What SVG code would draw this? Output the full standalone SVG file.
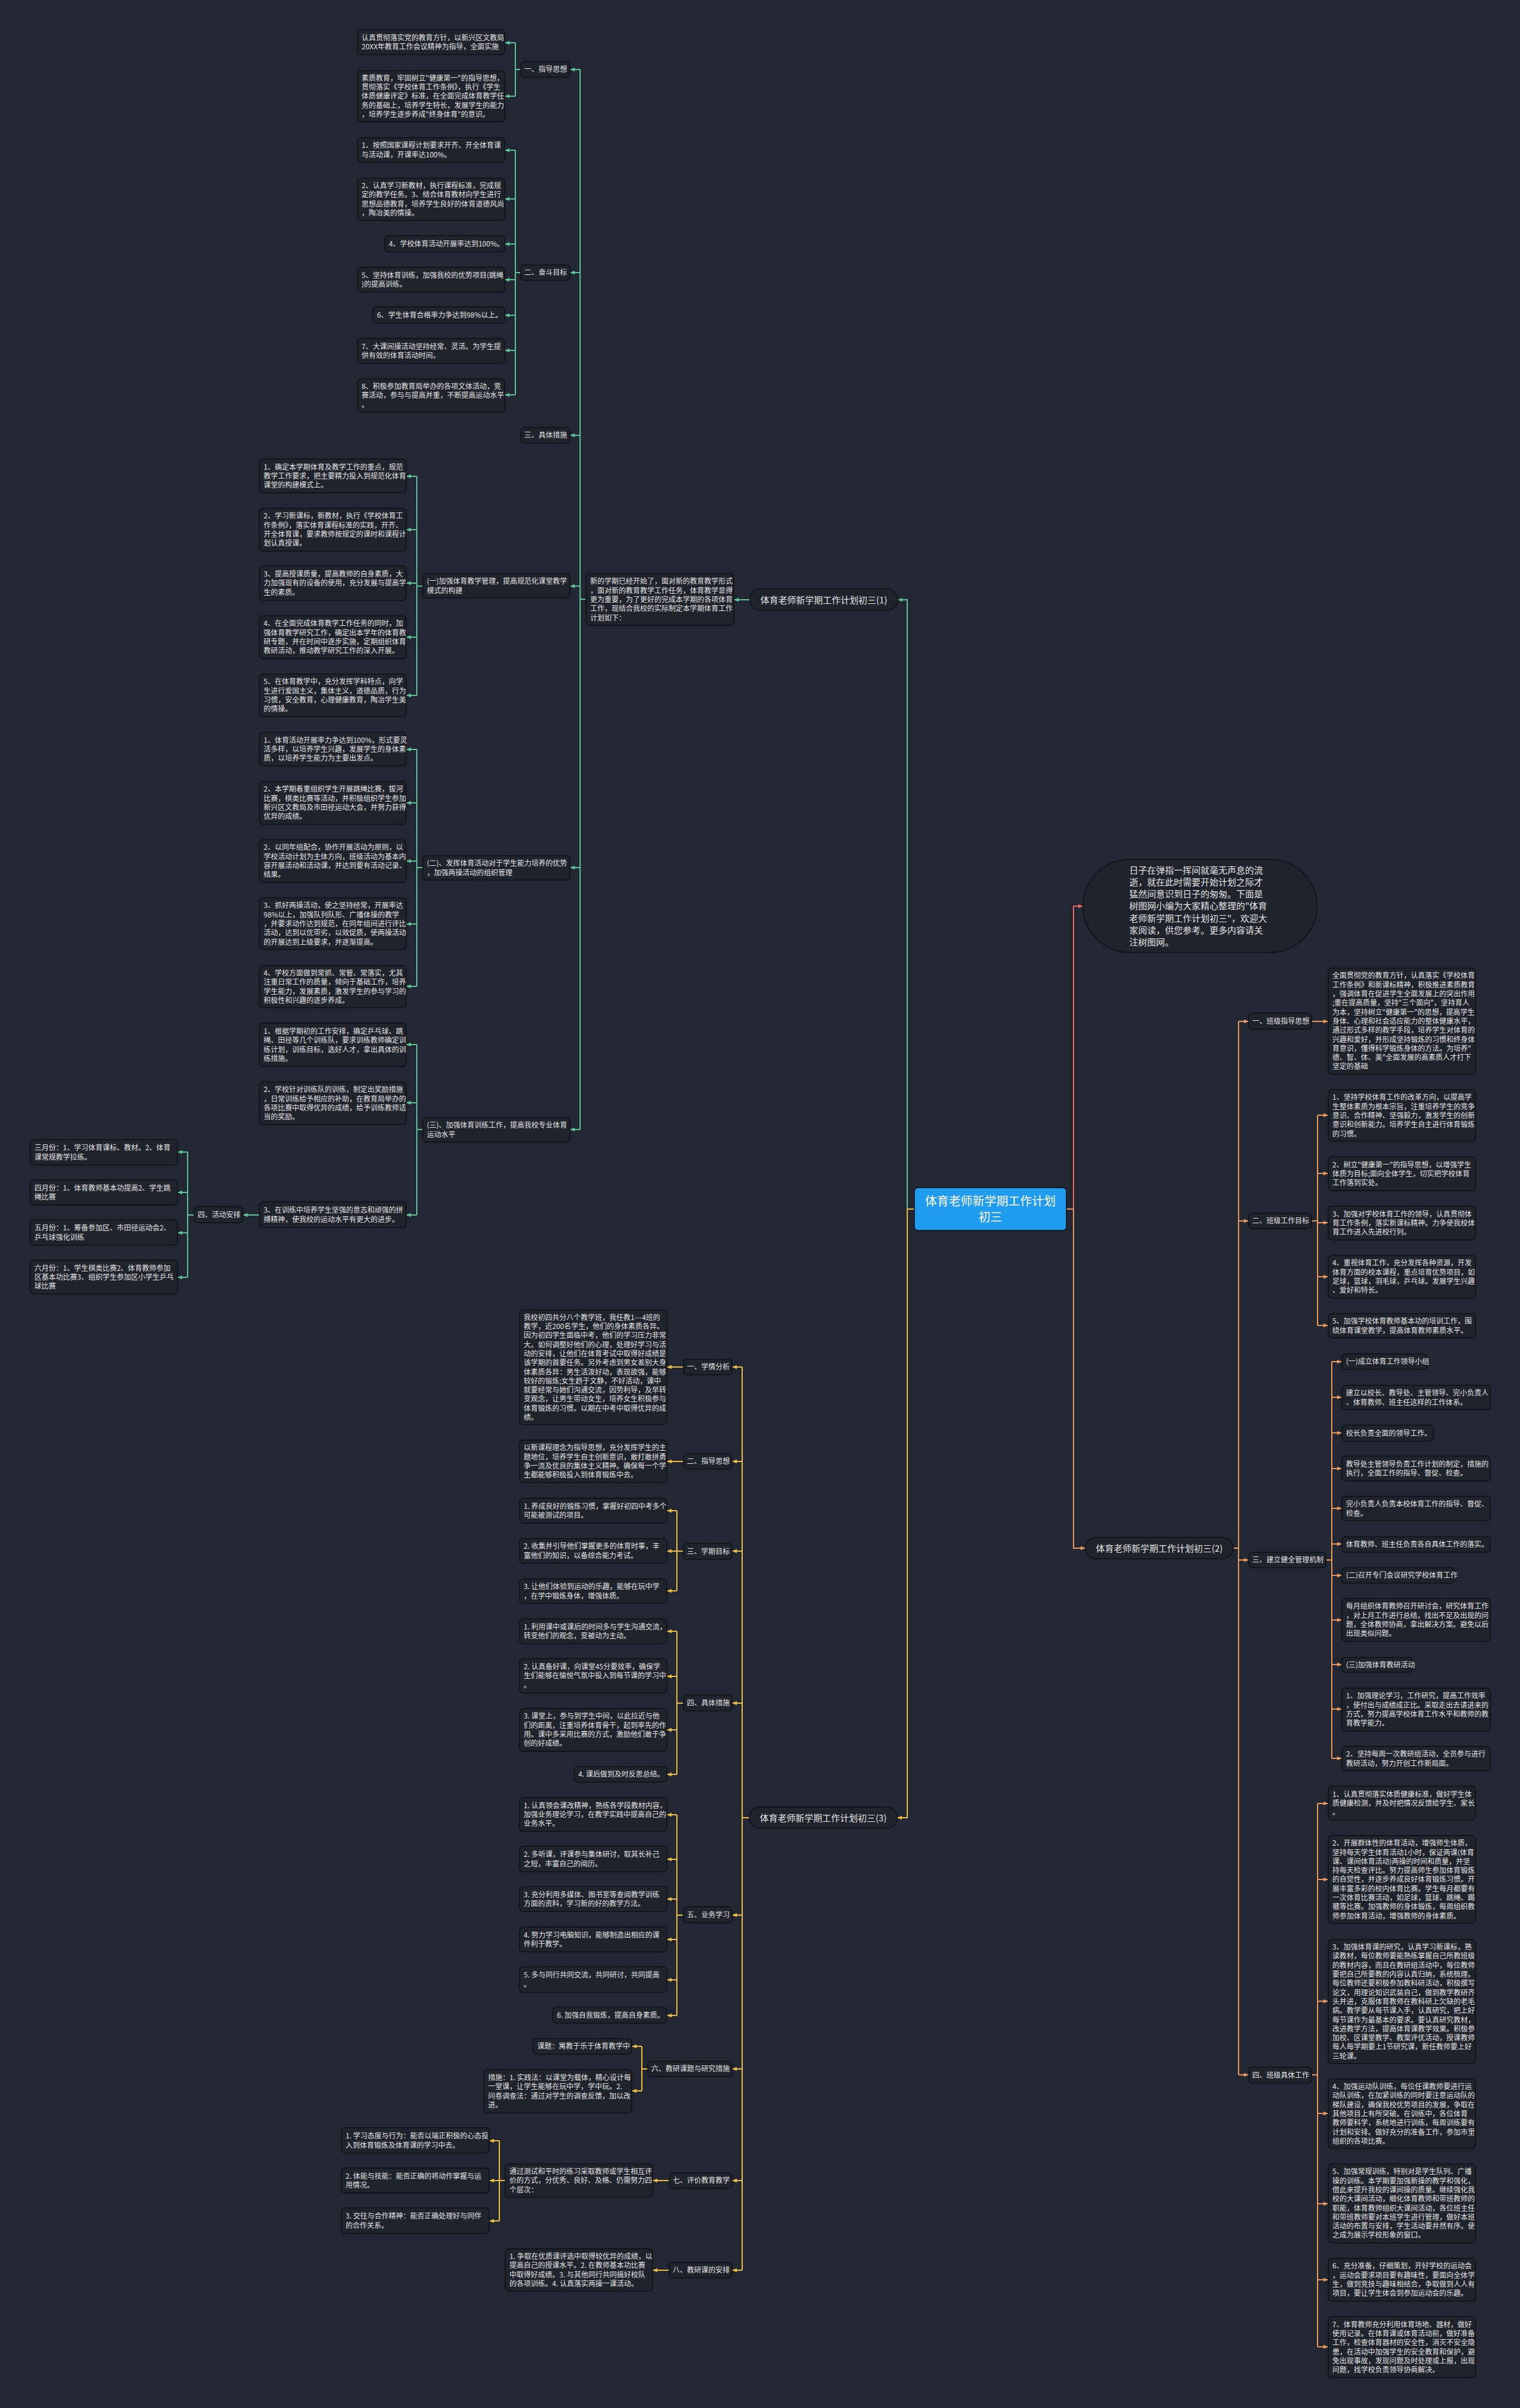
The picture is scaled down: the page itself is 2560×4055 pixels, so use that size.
<svg xmlns="http://www.w3.org/2000/svg" width="2560" height="4055" viewBox="0 0 2560 4055">
<style>
.bg{fill:#232733}
.n rect{fill:#1f232b;stroke:#0e1116;stroke-width:1.5}
.t{font-family:"Noto Sans CJK SC","Noto Sans",sans-serif;font-size:12px;fill:#e6e6e6}
.lb{font-family:"Noto Sans CJK SC","Noto Sans",sans-serif;font-size:15px;fill:#e6e6e6;text-anchor:middle}
.bt{font-family:"Noto Sans CJK SC","Noto Sans",sans-serif;font-size:15px;fill:#e6e6e6}
.rt{font-family:"Noto Sans CJK SC","Noto Sans",sans-serif;font-size:20px;fill:#ffffff;text-anchor:middle}
.cg path{fill:none;stroke:#5cc595;stroke-width:2}
.cy path{fill:none;stroke:#efc03c;stroke-width:2}
.co path{fill:none;stroke:#ec9a5c;stroke-width:2}
.cr path{fill:none;stroke:#e8645f;stroke-width:2}
.cg path.a{marker-end:url(#ag)}
.cy path.a{marker-end:url(#ay)}
.co path.a{marker-end:url(#ao)}
.cr path.a{marker-end:url(#ar)}
</style>
<defs>
<marker id="ag" viewBox="0 0 10 10" refX="10" refY="5" markerWidth="8" markerHeight="8" markerUnits="userSpaceOnUse" orient="auto"><path d="M0,1 L10,5 L0,9 z" fill="#5cc595"/></marker>
<marker id="ay" viewBox="0 0 10 10" refX="10" refY="5" markerWidth="8" markerHeight="8" markerUnits="userSpaceOnUse" orient="auto"><path d="M0,1 L10,5 L0,9 z" fill="#efc03c"/></marker>
<marker id="ao" viewBox="0 0 10 10" refX="10" refY="5" markerWidth="8" markerHeight="8" markerUnits="userSpaceOnUse" orient="auto"><path d="M0,1 L10,5 L0,9 z" fill="#ec9a5c"/></marker>
<marker id="ar" viewBox="0 0 10 10" refX="10" refY="5" markerWidth="8" markerHeight="8" markerUnits="userSpaceOnUse" orient="auto"><path d="M0,1 L10,5 L0,9 z" fill="#e8645f"/></marker>
</defs>
<rect class="bg" x="0" y="0" width="2560" height="4055"/>

<g id="connectors">
<g class="cg">
<path d="M1540 2036 H1528 V1010 H1512" class="a"/>
<path d="M1263 1010 H1236" class="a"/>
<path d="M977 1009 H987"/>
<path d="M977 117 V1902"/>
<path d="M977 117 H960" class="a"/><path d="M977 459 H960" class="a"/><path d="M977 733 H960" class="a"/><path d="M977 987 H960" class="a"/><path d="M977 1461 H960" class="a"/><path d="M977 1902 H960" class="a"/>
<path d="M877 117 H868 M868 72 V162"/>
<path d="M868 72 H850" class="a"/><path d="M868 162 H850" class="a"/>
<path d="M877 459 H868 M868 253 V665"/>
<path d="M868 253 H850" class="a"/><path d="M868 335 H850" class="a"/><path d="M868 411 H850" class="a"/><path d="M868 471 H850" class="a"/><path d="M868 531 H850" class="a"/><path d="M868 590 H850" class="a"/><path d="M868 665 H850" class="a"/>
<path d="M712 987 H702 M702 802 V1171"/>
<path d="M702 802 H684" class="a"/><path d="M702 892 H684" class="a"/><path d="M702 982 H684" class="a"/><path d="M702 1073 H684" class="a"/><path d="M702 1171 H684" class="a"/>
<path d="M712 1461 H702 M702 1262 V1661"/>
<path d="M702 1262 H684" class="a"/><path d="M702 1352 H684" class="a"/><path d="M702 1450 H684" class="a"/><path d="M702 1556 H684" class="a"/><path d="M702 1661 H684" class="a"/>
<path d="M712 1902 H702 M702 1759 V2046"/>
<path d="M702 1759 H684" class="a"/><path d="M702 1857 H684" class="a"/><path d="M702 2046 H684" class="a"/>
<path d="M437 2046 H409" class="a"/>
<path d="M327 2046 H316 M316 1940 V2151"/>
<path d="M316 1940 H299" class="a"/><path d="M316 2008 H299" class="a"/><path d="M316 2076 H299" class="a"/><path d="M316 2151 H299" class="a"/>
</g>
<g class="cy">
<path d="M1540 2036 H1528 V3061 H1511" class="a"/>
<path d="M1262 3061 H1250 M1250 2302 V3823"/>
<path d="M1250 2302 H1233" class="a"/><path d="M1250 2461 H1233" class="a"/><path d="M1250 2612 H1233" class="a"/><path d="M1250 2868 H1233" class="a"/><path d="M1250 3225 H1233" class="a"/><path d="M1250 3484 H1233" class="a"/><path d="M1250 3672 H1233" class="a"/><path d="M1250 3823 H1233" class="a"/>
<path d="M1151 2302 H1123" class="a"/>
<path d="M1151 2461 H1123" class="a"/>
<path d="M1151 2612 H1140 M1140 2544 V2679"/>
<path d="M1140 2544 H1123" class="a"/><path d="M1140 2612 H1123" class="a"/><path d="M1140 2679 H1123" class="a"/>
<path d="M1151 2868 H1140 M1140 2747 V2988"/>
<path d="M1140 2747 H1123" class="a"/><path d="M1140 2823 H1123" class="a"/><path d="M1140 2913 H1123" class="a"/><path d="M1140 2988 H1123" class="a"/>
<path d="M1151 3225 H1140 M1140 3056 V3394"/>
<path d="M1140 3056 H1123" class="a"/><path d="M1140 3131 H1123" class="a"/><path d="M1140 3198 H1123" class="a"/><path d="M1140 3266 H1123" class="a"/><path d="M1140 3334 H1123" class="a"/><path d="M1140 3394 H1123" class="a"/>
<path d="M1091 3484 H1081 M1081 3446 V3521"/>
<path d="M1081 3446 H1064" class="a"/><path d="M1081 3521 H1064" class="a"/>
<path d="M1127 3672 H1099" class="a"/>
<path d="M851 3672 H841 M841 3605 V3740"/>
<path d="M841 3605 H824" class="a"/><path d="M841 3672 H824" class="a"/><path d="M841 3740 H824" class="a"/>
<path d="M1127 3823 H1099" class="a"/>
</g>
<g class="cr">
<path d="M1796 2036 H1808 V1526 H1824" class="a"/>
</g>
<g class="co">
<path d="M1796 2036 H1808 V2607 H1828" class="a"/>
<path d="M2077 2607 H2086 M2086 1720 V3494"/>
<path d="M2086 1720 H2103" class="a"/><path d="M2086 2056 H2103" class="a"/><path d="M2086 2627 H2103" class="a"/><path d="M2086 3494 H2103" class="a"/>
<path d="M2209 1720 H2237" class="a"/>
<path d="M2209 2056 H2219 M2219 1878 V2232"/>
<path d="M2219 1878 H2237" class="a"/><path d="M2219 1976 H2237" class="a"/><path d="M2219 2059 H2237" class="a"/><path d="M2219 2150 H2237" class="a"/><path d="M2219 2232 H2237" class="a"/>
<path d="M2233 2627 H2243 M2243 2293 V2961"/>
<path d="M2243 2293 H2260" class="a"/><path d="M2243 2353 H2260" class="a"/><path d="M2243 2413 H2260" class="a"/><path d="M2243 2473 H2260" class="a"/><path d="M2243 2540 H2260" class="a"/><path d="M2243 2600 H2260" class="a"/><path d="M2243 2653 H2260" class="a"/><path d="M2243 2728 H2260" class="a"/><path d="M2243 2803 H2260" class="a"/><path d="M2243 2878 H2260" class="a"/><path d="M2243 2961 H2260" class="a"/>
<path d="M2209 3494 H2219 M2219 3037 V3952"/>
<path d="M2219 3037 H2237" class="a"/><path d="M2219 3165 H2237" class="a"/><path d="M2219 3370 H2237" class="a"/><path d="M2219 3559 H2237" class="a"/><path d="M2219 3711 H2237" class="a"/><path d="M2219 3839 H2237" class="a"/><path d="M2219 3952 H2237" class="a"/>
</g>
</g>

<!-- root -->
<g id="root"><rect x="1540" y="2000" width="256" height="72" rx="6" fill="#1f9bef" stroke="#0e1116" stroke-width="1.5"/>
<text class="rt" x="1668" y="2030">体育老师新学期工作计划</text><text class="rt" x="1668" y="2057">初三</text></g>

<g id="bubble" class="n"><rect x="1824" y="1447" width="394" height="157" rx="78.5"/>
<text class="bt" x="1902" y="1470.5"><tspan x="1902">日子在弹指一挥间就毫无声息的流</tspan><tspan x="1902" dy="20.3">逝，就在此时需要开始计划之际才</tspan><tspan x="1902" dy="20.3">猛然间意识到日子的匆匆。下面是</tspan><tspan x="1902" dy="20.3">树图网小编为大家精心整理的"体育</tspan><tspan x="1902" dy="20.3">老师新学期工作计划初三"，欢迎大</tspan><tspan x="1902" dy="20.3">家阅读，供您参考。更多内容请关</tspan><tspan x="1902" dy="20.3">注树图网。</tspan></text></g>

<!-- branch 1 -->
<g id="label1" class="n"><rect x="1263" y="992" width="249" height="36" rx="18"/><text class="lb" x="1387.5" y="1015.5">体育老师新学期工作计划初三(1)</text></g>
<g id="intro1" class="n"><rect x="987" y="966" width="249" height="87" rx="6"/>
<text class="t" x="994" y="983.3"><tspan x="994">新的学期已经开始了，面对新的教育教学形式</tspan><tspan x="994" dy="15.3">，面对新的教育教学工作任务，体育教学显得</tspan><tspan x="994" dy="15.3">更为重要，为了更好的完成本学期的各项体育</tspan><tspan x="994" dy="15.3">工作，现结合我校的实际制定本学期体育工作</tspan><tspan x="994" dy="15.3">计划如下：</tspan></text></g>

<g id="s1-1" class="n"><rect x="877" y="104" width="83" height="26" rx="6"/><text class="t" x="883" y="121.4">一、指导思想</text></g>
<g id="s1-2" class="n"><rect x="877" y="446" width="83" height="26" rx="6"/><text class="t" x="883" y="463.4">二、奋斗目标</text></g>
<g id="s1-3" class="n"><rect x="877" y="720" width="83" height="26" rx="6"/><text class="t" x="883" y="737.4">三、具体措施</text></g>

<g id="a1" class="n"><rect x="602" y="50" width="248" height="42" rx="6"/><text class="t" x="609" y="67.75"><tspan x="609">认真贯彻落实党的教育方针，以新兴区文教局</tspan><tspan x="609" dy="15.3">20XX年教育工作会议精神为指导，全面实施</tspan></text></g>
<g id="a2" class="n"><rect x="602" y="119" width="248" height="86" rx="6"/><text class="t" x="609" y="135.8"><tspan x="609">素质教育，牢固树立"健康第一"的指导思想，</tspan><tspan x="609" dy="15.3">贯彻落实《学校体育工作条例》，执行《学生</tspan><tspan x="609" dy="15.3">体质健康评定》标准，在全面完成体育教学任</tspan><tspan x="609" dy="15.3">务的基础上，培养学生特长，发展学生的能力</tspan><tspan x="609" dy="15.3">，培养学生逐步养成"终身体育"的意识。</tspan></text></g>
<g id="b1" class="n"><rect x="602" y="232" width="248" height="41" rx="6"/><text class="t" x="609" y="249.25"><tspan x="609">1、按照国家课程计划要求开齐、开全体育课</tspan><tspan x="609" dy="15.3">与活动课，开课率达100%。</tspan></text></g>
<g id="b2" class="n"><rect x="602" y="300" width="248" height="71" rx="6"/><text class="t" x="609" y="316.95"><tspan x="609">2、认真学习新教材，执行课程标准，完成规</tspan><tspan x="609" dy="15.3">定的教学任务。3、结合体育教材向学生进行</tspan><tspan x="609" dy="15.3">思想品德教育，培养学生良好的体育道德风尚</tspan><tspan x="609" dy="15.3">，陶冶美的情操。</tspan></text></g>
<g id="b3" class="n"><rect x="648" y="397" width="202" height="27" rx="6"/><text class="t" x="655" y="414.9">4、学校体育活动开展率达到100%。</text></g>
<g id="b4" class="n"><rect x="602" y="450" width="248" height="42" rx="6"/><text class="t" x="609" y="467.75"><tspan x="609">5、坚持体育训练，加强我校的优势项目(跳绳</tspan><tspan x="609" dy="15.3">)的提高训练。</tspan></text></g>
<g id="b5" class="n"><rect x="628" y="517" width="222" height="27" rx="6"/><text class="t" x="635" y="534.9">6、学生体育合格率力争达到98%以上。</text></g>
<g id="b6" class="n"><rect x="602" y="570" width="248" height="42" rx="6"/><text class="t" x="609" y="587.75"><tspan x="609">7、大课间操活动坚持经常、灵活。为学生提</tspan><tspan x="609" dy="15.3">供有效的体育活动时间。</tspan></text></g>
<g id="b7" class="n"><rect x="602" y="638" width="248" height="56" rx="6"/><text class="t" x="609" y="655.1"><tspan x="609">8、积极参加教育局举办的各项文体活动，竞</tspan><tspan x="609" dy="15.3">赛活动，参与与提高并重，不断提高运动水平</tspan><tspan x="609" dy="15.3">。</tspan></text></g>

<g id="p1" class="n"><rect x="712" y="966" width="248" height="41" rx="6"/><text class="t" x="719" y="983.25"><tspan x="719">(一)加强体育教学管理，提高规范化课堂教学</tspan><tspan x="719" dy="15.3">模式的构建</tspan></text></g>
<g id="c1" class="n"><rect x="437" y="773" width="247" height="57" rx="6"/><text class="t" x="444" y="790.6"><tspan x="444">1、确定本学期体育及教学工作的重点，规范</tspan><tspan x="444" dy="15.3">教学工作要求，把主要精力投入到规范化体育</tspan><tspan x="444" dy="15.3">课堂的构建模式上。</tspan></text></g>
<g id="c2" class="n"><rect x="437" y="856" width="247" height="72" rx="6"/><text class="t" x="444" y="873.45"><tspan x="444">2、学习新课标，新教材，执行《学校体育工</tspan><tspan x="444" dy="15.3">作条例》，落实体育课程标准的实践，开齐、</tspan><tspan x="444" dy="15.3">开全体育课，要求教师按规定的课时和课程计</tspan><tspan x="444" dy="15.3">划认真授课。</tspan></text></g>
<g id="c3" class="n"><rect x="437" y="953" width="247" height="58" rx="6"/><text class="t" x="444" y="971.1"><tspan x="444">3、提高授课质量，提高教师的自身素质，大</tspan><tspan x="444" dy="15.3">力加强现有的设备的使用，充分发展与提高学</tspan><tspan x="444" dy="15.3">生的素质。</tspan></text></g>
<g id="c4" class="n"><rect x="437" y="1037" width="247" height="72" rx="6"/><text class="t" x="444" y="1054.45"><tspan x="444">4、在全面完成体育教学工作任务的同时，加</tspan><tspan x="444" dy="15.3">强体育教学研究工作，确定出本学年的体育教</tspan><tspan x="444" dy="15.3">研专题，并在时间中逐步实施，定期组织体育</tspan><tspan x="444" dy="15.3">教研活动，推动教学研究工作的深入开展。</tspan></text></g>
<g id="c5" class="n"><rect x="437" y="1135" width="247" height="72" rx="6"/><text class="t" x="444" y="1152.45"><tspan x="444">5、在体育教学中，充分发挥学科特点，向学</tspan><tspan x="444" dy="15.3">生进行爱国主义，集体主义，道德品质，行为</tspan><tspan x="444" dy="15.3">习惯，安全教育，心理健康教育，陶冶学生美</tspan><tspan x="444" dy="15.3">的情操。</tspan></text></g>

<g id="p2" class="n"><rect x="712" y="1441" width="248" height="41" rx="6"/><text class="t" x="719" y="1458.25"><tspan x="719">(二)、发挥体育活动对于学生能力培养的优势</tspan><tspan x="719" dy="15.3">，加强两操活动的组织管理</tspan></text></g>
<g id="d1" class="n"><rect x="437" y="1233" width="247" height="57" rx="6"/><text class="t" x="444" y="1250.6"><tspan x="444">1、体育活动开展率力争达到100%，形式要灵</tspan><tspan x="444" dy="15.3">活多样，以培养学生兴趣，发展学生的身体素</tspan><tspan x="444" dy="15.3">质，以培养学生能力为主要出发点。</tspan></text></g>
<g id="d2" class="n"><rect x="437" y="1316" width="247" height="72" rx="6"/><text class="t" x="444" y="1333.45"><tspan x="444">2、本学期着重组织学生开展跳绳比赛，拔河</tspan><tspan x="444" dy="15.3">比赛，棋类比赛等活动，并积极组织学生参加</tspan><tspan x="444" dy="15.3">新兴区文教局及市田径运动大会，并努力获得</tspan><tspan x="444" dy="15.3">优异的成绩。</tspan></text></g>
<g id="d3" class="n"><rect x="437" y="1414" width="247" height="72" rx="6"/><text class="t" x="444" y="1431.45"><tspan x="444">2、以同年组配合，协作开展活动为原则，以</tspan><tspan x="444" dy="15.3">学校活动计划为主体方向，班级活动为基本内</tspan><tspan x="444" dy="15.3">容开展活动和活动课，并达到要有活动记录、</tspan><tspan x="444" dy="15.3">结果。</tspan></text></g>
<g id="d4" class="n"><rect x="437" y="1512" width="247" height="87" rx="6"/><text class="t" x="444" y="1529.3"><tspan x="444">3、抓好两操活动，使之坚持经常，开展率达</tspan><tspan x="444" dy="15.3">98%以上，加强队列队形、广播体操的教学</tspan><tspan x="444" dy="15.3">，并要求动作达到规范，在同年组间进行评比</tspan><tspan x="444" dy="15.3">活动，达到以优带劣，以效促质，使两操活动</tspan><tspan x="444" dy="15.3">的开展达到上级要求，并逐渐提高。</tspan></text></g>
<g id="d5" class="n"><rect x="437" y="1626" width="247" height="71" rx="6"/><text class="t" x="444" y="1642.95"><tspan x="444">4、学校方面做到常抓、常管、常落实，尤其</tspan><tspan x="444" dy="15.3">注重日常工作的质量，倾向于基础工作，培养</tspan><tspan x="444" dy="15.3">学生能力，发展素质，激发学生的参与学习的</tspan><tspan x="444" dy="15.3">积极性和兴趣的逐步养成。</tspan></text></g>

<g id="p3" class="n"><rect x="712" y="1882" width="248" height="41" rx="6"/><text class="t" x="719" y="1899.25"><tspan x="719">(三)、加强体育训练工作，提高我校专业体育</tspan><tspan x="719" dy="15.3">运动水平</tspan></text></g>
<g id="e1" class="n"><rect x="437" y="1723" width="247" height="73" rx="6"/><text class="t" x="444" y="1740.95"><tspan x="444">1、根据学期初的工作安排，确定乒乓球、跳</tspan><tspan x="444" dy="15.3">绳、田径等几个训练队，要求训练教师确定训</tspan><tspan x="444" dy="15.3">练计划，训练目标，选好人才，拿出具体的训</tspan><tspan x="444" dy="15.3">练措施。</tspan></text></g>
<g id="e2" class="n"><rect x="437" y="1822" width="247" height="72" rx="6"/><text class="t" x="444" y="1839.45"><tspan x="444">2、学校针对训练队的训练，制定出奖励措施</tspan><tspan x="444" dy="15.3">，日常训练给予相应的补助，在教育局举办的</tspan><tspan x="444" dy="15.3">各项比赛中取得优异的成绩，给予训练教师适</tspan><tspan x="444" dy="15.3">当的奖励。</tspan></text></g>
<g id="e3" class="n"><rect x="437" y="2024" width="247" height="43" rx="6"/><text class="t" x="444" y="2042.25"><tspan x="444">3、在训练中培养学生坚强的意志和顽强的拼</tspan><tspan x="444" dy="15.3">搏精神，使我校的运动水平有更大的进步。</tspan></text></g>
<g id="s1-4" class="n"><rect x="327" y="2032" width="82" height="27" rx="6"/><text class="t" x="333" y="2049.9">四、活动安排</text></g>
<g id="m1" class="n"><rect x="51" y="1919" width="248" height="43" rx="6"/><text class="t" x="58" y="1937.25"><tspan x="58">三月份：1、学习体育课标、教材。2、体育</tspan><tspan x="58" dy="15.3">课常规教学拉练。</tspan></text></g>
<g id="m2" class="n"><rect x="51" y="1987" width="248" height="42" rx="6"/><text class="t" x="58" y="2004.75"><tspan x="58">四月份：1、体育教师基本功提高2、学生跳</tspan><tspan x="58" dy="15.3">绳比赛</tspan></text></g>
<g id="m3" class="n"><rect x="51" y="2054" width="248" height="43" rx="6"/><text class="t" x="58" y="2072.25"><tspan x="58">五月份：1、筹备参加区、市田径运动会2、</tspan><tspan x="58" dy="15.3">乒乓球强化训练</tspan></text></g>
<g id="m4" class="n"><rect x="51" y="2122" width="248" height="57" rx="6"/><text class="t" x="58" y="2139.6"><tspan x="58">六月份：1、学生棋类比赛2、体育教师参加</tspan><tspan x="58" dy="15.3">区基本功比赛3、组织学生参加区小学生乒乓</tspan><tspan x="58" dy="15.3">球比赛</tspan></text></g>

<!-- branch 2 -->
<g id="label2" class="n"><rect x="1828" y="2589" width="249" height="36" rx="18"/><text class="lb" x="1952.5" y="2612.5">体育老师新学期工作计划初三(2)</text></g>
<g id="s2-1" class="n"><rect x="2103" y="1706" width="106" height="27" rx="6"/><text class="t" x="2109" y="1723.9">一、班级指导思想</text></g>
<g id="s2-2" class="n"><rect x="2103" y="2043" width="106" height="26" rx="6"/><text class="t" x="2109" y="2060.4">二、班级工作目标</text></g>
<g id="s2-3" class="n"><rect x="2103" y="2614" width="130" height="26" rx="6"/><text class="t" x="2109" y="2631.4">三、建立健全管理机制</text></g>
<g id="s2-4" class="n"><rect x="2103" y="3481" width="106" height="27" rx="6"/><text class="t" x="2109" y="3498.9">四、班级具体工作</text></g>

<g id="r1" class="n"><rect x="2237" y="1630" width="248" height="179" rx="6"/><text class="t" x="2244" y="1647.4"><tspan x="2244">全面贯彻党的教育方针，认真落实《学校体育</tspan><tspan x="2244" dy="15.3">工作条例》和新课标精神，积极推进素质教育</tspan><tspan x="2244" dy="15.3">，强调体育在促进学生全面发展上的突出作用</tspan><tspan x="2244" dy="15.3">;重在提高质量，坚持"三个面向"，坚持育人</tspan><tspan x="2244" dy="15.3">为本，坚持树立"健康第一"的思想，提高学生</tspan><tspan x="2244" dy="15.3">身体、心理和社会适应能力的整体健康水平，</tspan><tspan x="2244" dy="15.3">通过形式多样的教学手段，培养学生对体育的</tspan><tspan x="2244" dy="15.3">兴趣和爱好，并形成坚持锻炼的习惯和终身体</tspan><tspan x="2244" dy="15.3">育意识，懂得科学锻炼身体的方法。为培养"</tspan><tspan x="2244" dy="15.3">德、智、体、美"全面发展的高素质人才打下</tspan><tspan x="2244" dy="15.3">坚定的基础</tspan></text></g>
<g id="r21" class="n"><rect x="2237" y="1835" width="248" height="87" rx="6"/><text class="t" x="2244" y="1852.3"><tspan x="2244">1、坚持学校体育工作的改革方向，以提高学</tspan><tspan x="2244" dy="15.3">生整体素质为根本宗旨，注重培养学生的竞争</tspan><tspan x="2244" dy="15.3">意识、合作精神、坚强毅力，激发学生的创新</tspan><tspan x="2244" dy="15.3">意识和创新能力。培养学生自主进行体育锻炼</tspan><tspan x="2244" dy="15.3">的习惯。</tspan></text></g>
<g id="r22" class="n"><rect x="2237" y="1948" width="248" height="57" rx="6"/><text class="t" x="2244" y="1965.6"><tspan x="2244">2、树立"健康第一"的指导思想，以增强学生</tspan><tspan x="2244" dy="15.3">体质为目标;面向全体学生，切实把学校体育</tspan><tspan x="2244" dy="15.3">工作落到实处。</tspan></text></g>
<g id="r23" class="n"><rect x="2237" y="2031" width="248" height="57" rx="6"/><text class="t" x="2244" y="2048.6"><tspan x="2244">3、加强对学校体育工作的领导，认真贯彻体</tspan><tspan x="2244" dy="15.3">育工作条例，落实新课标精神。力争使我校体</tspan><tspan x="2244" dy="15.3">育工作进入先进校行列。</tspan></text></g>
<g id="r24" class="n"><rect x="2237" y="2114" width="248" height="72" rx="6"/><text class="t" x="2244" y="2131.45"><tspan x="2244">4、重视体育工作，充分发挥各种资源，开发</tspan><tspan x="2244" dy="15.3">体育方面的校本课程，重点培育优势项目，如</tspan><tspan x="2244" dy="15.3">足球，篮球，羽毛球，乒乓球。发展学生兴趣</tspan><tspan x="2244" dy="15.3">、爱好和特长。</tspan></text></g>
<g id="r25" class="n"><rect x="2237" y="2212" width="248" height="41" rx="6"/><text class="t" x="2244" y="2229.25"><tspan x="2244">5、加强学校体育教师基本功的培训工作，围</tspan><tspan x="2244" dy="15.3">绕体育课堂教学，提高体育教师素质水平。</tspan></text></g>

<g id="t31" class="n"><rect x="2260" y="2280" width="143" height="26" rx="6"/><text class="t" x="2267" y="2297.4">(一)成立体育工作领导小组</text></g>
<g id="t32" class="n"><rect x="2260" y="2333" width="250" height="41" rx="6"/><text class="t" x="2267" y="2350.25"><tspan x="2267">建立以校长、教导处、主管领导、完小负责人</tspan><tspan x="2267" dy="15.3">、体育教师、班主任这样的工作体系。</tspan></text></g>
<g id="t33" class="n"><rect x="2260" y="2400" width="154" height="27" rx="6"/><text class="t" x="2267" y="2417.9">校长负责全面的领导工作。</text></g>
<g id="t34" class="n"><rect x="2260" y="2452" width="250" height="42" rx="6"/><text class="t" x="2267" y="2469.75"><tspan x="2267">教导处主管领导负责工作计划的制定，措施的</tspan><tspan x="2267" dy="15.3">执行，全面工作的指导、督促、检查。</tspan></text></g>
<g id="t35" class="n"><rect x="2260" y="2520" width="250" height="41" rx="6"/><text class="t" x="2267" y="2537.25"><tspan x="2267">完小负责人负责本校体育工作的指导、督促、</tspan><tspan x="2267" dy="15.3">检查。</tspan></text></g>
<g id="t36" class="n"><rect x="2260" y="2588" width="250" height="26" rx="6"/><text class="t" x="2267" y="2605.4">体育教师、班主任负责各自具体工作的落实。</text></g>
<g id="t37" class="n"><rect x="2260" y="2640" width="190" height="26" rx="6"/><text class="t" x="2267" y="2657.4">(二)召开专门会议研究学校体育工作</text></g>
<g id="t38" class="n"><rect x="2260" y="2692" width="250" height="72" rx="6"/><text class="t" x="2267" y="2709.45"><tspan x="2267">每月组织体育教师召开研讨会，研究体育工作</tspan><tspan x="2267" dy="15.3">，对上月工作进行总结，找出不足及出现的问</tspan><tspan x="2267" dy="15.3">题，全体教师协商，拿出解决方案。避免以后</tspan><tspan x="2267" dy="15.3">出现类似问题。</tspan></text></g>
<g id="t39" class="n"><rect x="2260" y="2791" width="119" height="25" rx="6"/><text class="t" x="2267" y="2807.9">(三)加强体育教研活动</text></g>
<g id="t310" class="n"><rect x="2260" y="2843" width="250" height="72" rx="6"/><text class="t" x="2267" y="2860.45"><tspan x="2267">1、加强理论学习，工作研究，提高工作效率</tspan><tspan x="2267" dy="15.3">，使付出与成绩成正比。采取走出去请进来的</tspan><tspan x="2267" dy="15.3">方式，努力提高学校体育工作水平和教师的教</tspan><tspan x="2267" dy="15.3">育教学能力。</tspan></text></g>
<g id="t311" class="n"><rect x="2260" y="2941" width="250" height="41" rx="6"/><text class="t" x="2267" y="2958.25"><tspan x="2267">2、坚持每周一次教研组活动，全员参与进行</tspan><tspan x="2267" dy="15.3">教研活动，努力开创工作新局面。</tspan></text></g>

<g id="u1" class="n"><rect x="2237" y="3008" width="248" height="57" rx="6"/><text class="t" x="2244" y="3025.6"><tspan x="2244">1、认真贯彻落实体质健康标准，做好学生体</tspan><tspan x="2244" dy="15.3">质健康检测，并及时把情况反馈给学生、家长</tspan><tspan x="2244" dy="15.3">。</tspan></text></g>
<g id="u2" class="n"><rect x="2237" y="3091" width="248" height="148" rx="6"/><text class="t" x="2244" y="3108.2"><tspan x="2244">2、开展群体性的体育活动，增强师生体质，</tspan><tspan x="2244" dy="15.3">坚持每天学生体育活动1小时，保证两课(体育</tspan><tspan x="2244" dy="15.3">课、课间体育活动)两操的时间和质量，并坚</tspan><tspan x="2244" dy="15.3">持每天检查评比。努力提高师生参加体育锻炼</tspan><tspan x="2244" dy="15.3">的自觉性，并逐步养成良好体育锻炼习惯。开</tspan><tspan x="2244" dy="15.3">展丰富多彩的校内体育比赛。学生每月都要有</tspan><tspan x="2244" dy="15.3">一次体育比赛活动，如足球，篮球、跳绳、踢</tspan><tspan x="2244" dy="15.3">毽等比赛。加强教师的身体锻炼，每周组织教</tspan><tspan x="2244" dy="15.3">师参加体育活动，增强教师的身体素质。</tspan></text></g>
<g id="u3" class="n"><rect x="2237" y="3266" width="248" height="209" rx="6"/><text class="t" x="2244" y="3283.1"><tspan x="2244">3、加强体育课的研究，认真学习新课标，熟</tspan><tspan x="2244" dy="15.3">读教材，每位教师要能熟练掌握自己所教班级</tspan><tspan x="2244" dy="15.3">的教材内容，而且在教研组活动中，每位教师</tspan><tspan x="2244" dy="15.3">要把自己所要教的内容认真归纳，系统梳理。</tspan><tspan x="2244" dy="15.3">每位教师还要积极参加教科研活动，积极撰写</tspan><tspan x="2244" dy="15.3">论文，用理论知识武装自己，做到教学教研齐</tspan><tspan x="2244" dy="15.3">头并进，克服体育教师在教科研上欠缺的老毛</tspan><tspan x="2244" dy="15.3">病。教学要从每节课入手，认真研究，把上好</tspan><tspan x="2244" dy="15.3">每节课作为最基本的要求。要认真研究教材，</tspan><tspan x="2244" dy="15.3">改进教学方法，提高体育课教学效果。积极参</tspan><tspan x="2244" dy="15.3">加校、区课堂教学、教案评优活动，授课教师</tspan><tspan x="2244" dy="15.3">每人每学期要上1节研究课，新任教师要上好</tspan><tspan x="2244" dy="15.3">三轮课。</tspan></text></g>
<g id="u4" class="n"><rect x="2237" y="3501" width="248" height="117" rx="6"/><text class="t" x="2244" y="3518"><tspan x="2244">4、加强运动队训练，每位任课教师要进行运</tspan><tspan x="2244" dy="15.3">动队训练，在加紧训练的同时要注意运动队的</tspan><tspan x="2244" dy="15.3">梯队建设，确保我校优势项目的发展，争取在</tspan><tspan x="2244" dy="15.3">其他项目上有所突破。在训练中，各位体育</tspan><tspan x="2244" dy="15.3">教师要科学，系统地进行训练，每周训练要有</tspan><tspan x="2244" dy="15.3">计划和安排。做好充分的准备工作，参加市里</tspan><tspan x="2244" dy="15.3">组织的各项比赛。</tspan></text></g>
<g id="u5" class="n"><rect x="2237" y="3644" width="248" height="133" rx="6"/><text class="t" x="2244" y="3661.35"><tspan x="2244">5、加强常规训练，特别对是学生队列、广播</tspan><tspan x="2244" dy="15.3">操的训练。本学期要加强新操的教学和强化，</tspan><tspan x="2244" dy="15.3">借此来提升我校的课间操的质量。继续强化我</tspan><tspan x="2244" dy="15.3">校的大课间活动，细化体育教师和带班教师的</tspan><tspan x="2244" dy="15.3">职能，体育教师组织大课间活动，各位班主任</tspan><tspan x="2244" dy="15.3">和带班教师要对本班学生进行管理，做好本班</tspan><tspan x="2244" dy="15.3">活动的布置与安排，学生活动要井然有序。使</tspan><tspan x="2244" dy="15.3">之成为展示学校形象的窗口。</tspan></text></g>
<g id="u6" class="n"><rect x="2237" y="3803" width="248" height="72" rx="6"/><text class="t" x="2244" y="3820.45"><tspan x="2244">6、充分准备，仔细策划，开好学校的运动会</tspan><tspan x="2244" dy="15.3">，运动会要求项目要有趣味性，要面向全体学</tspan><tspan x="2244" dy="15.3">生，做到竞技与趣味相结合，争取做到人人有</tspan><tspan x="2244" dy="15.3">项目，要让学生体会到参加运动会的乐趣。</tspan></text></g>
<g id="u7" class="n"><rect x="2237" y="3901" width="248" height="103" rx="6"/><text class="t" x="2244" y="3918.65"><tspan x="2244">7、体育教师充分利用体育场地、器材，做好</tspan><tspan x="2244" dy="15.3">使用记录。在体育课或体育活动前，做好准备</tspan><tspan x="2244" dy="15.3">工作，检查体育器材的安全性，消灭不安全隐</tspan><tspan x="2244" dy="15.3">患，在活动中加强学生的安全教育和保护，避</tspan><tspan x="2244" dy="15.3">免出现事故，发现问题及时处理或上报，出现</tspan><tspan x="2244" dy="15.3">问题，找学校负责领导协商解决。</tspan></text></g>

<!-- branch 3 -->
<g id="label3" class="n"><rect x="1262" y="3043" width="249" height="36" rx="18"/><text class="lb" x="1386.5" y="3066.5">体育老师新学期工作计划初三(3)</text></g>
<g id="s3-1" class="n"><rect x="1151" y="2289" width="82" height="26" rx="6"/><text class="t" x="1157" y="2306.4">一、学情分析</text></g>
<g id="s3-2" class="n"><rect x="1151" y="2448" width="82" height="26" rx="6"/><text class="t" x="1157" y="2465.4">二、指导思想</text></g>
<g id="s3-3" class="n"><rect x="1151" y="2599" width="82" height="27" rx="6"/><text class="t" x="1157" y="2616.9">三、学期目标</text></g>
<g id="s3-4" class="n"><rect x="1151" y="2854" width="82" height="27" rx="6"/><text class="t" x="1157" y="2871.9">四、具体措施</text></g>
<g id="s3-5" class="n"><rect x="1151" y="3211" width="82" height="27" rx="6"/><text class="t" x="1157" y="3228.9">五、业务学习</text></g>
<g id="s3-6" class="n"><rect x="1091" y="3471" width="142" height="26" rx="6"/><text class="t" x="1097" y="3488.4">六、教研课题与研究措施</text></g>
<g id="s3-7" class="n"><rect x="1127" y="3659" width="106" height="26" rx="6"/><text class="t" x="1133" y="3676.4">七、评价教育教学</text></g>
<g id="s3-8" class="n"><rect x="1127" y="3810" width="106" height="26" rx="6"/><text class="t" x="1133" y="3827.4">八、教研课的安排</text></g>

<g id="y1" class="n"><rect x="875" y="2206" width="248" height="193" rx="6"/><text class="t" x="882" y="2222.75"><tspan x="882">我校初四共分八个教学班，我任教1---4班的</tspan><tspan x="882" dy="15.3">教学，近200名学生，他们的身体素质各异。</tspan><tspan x="882" dy="15.3">因为初四学生面临中考，他们的学习压力非常</tspan><tspan x="882" dy="15.3">大。如何调整好他们的心理，处理好学习与活</tspan><tspan x="882" dy="15.3">动的安排，让他们在体育考试中取得好成绩是</tspan><tspan x="882" dy="15.3">该学期的首要任务。另外考虑到男女差别大身</tspan><tspan x="882" dy="15.3">体素质各异：男生活泼好动，表现欲强，能够</tspan><tspan x="882" dy="15.3">较好的锻炼;女生趋于文静，不好活动，课中</tspan><tspan x="882" dy="15.3">就要经常与她们沟通交流，因势利导，及早转</tspan><tspan x="882" dy="15.3">变观念，让男生带动女生，培养女生积极参与</tspan><tspan x="882" dy="15.3">体育锻炼的习惯。以期在中考中取得优异的成</tspan><tspan x="882" dy="15.3">绩。</tspan></text></g>
<g id="y2" class="n"><rect x="875" y="2425" width="248" height="72" rx="6"/><text class="t" x="882" y="2442.45"><tspan x="882">以新课程理念为指导思想，充分发挥学生的主</tspan><tspan x="882" dy="15.3">题地位，培养学生自主创新意识，敢打敢拼勇</tspan><tspan x="882" dy="15.3">争一流及优良的集体主义精神。确保每一个学</tspan><tspan x="882" dy="15.3">生都能够积极投入到体育锻炼中去。</tspan></text></g>
<g id="y3a" class="n"><rect x="875" y="2523" width="248" height="42" rx="6"/><text class="t" x="882" y="2540.75"><tspan x="882">1. 养成良好的锻炼习惯，掌握好初四中考多个</tspan><tspan x="882" dy="15.3">可能被测试的项目。</tspan></text></g>
<g id="y3b" class="n"><rect x="875" y="2591" width="248" height="41" rx="6"/><text class="t" x="882" y="2608.25"><tspan x="882">2. 收集并引导他们掌握更多的体育时事，丰</tspan><tspan x="882" dy="15.3">富他们的知识，以备综合能力考试。</tspan></text></g>
<g id="y3c" class="n"><rect x="875" y="2659" width="248" height="41" rx="6"/><text class="t" x="882" y="2676.25"><tspan x="882">3. 让他们体验到运动的乐趣，能够在玩中学</tspan><tspan x="882" dy="15.3">，在学中锻炼身体，增强体质。</tspan></text></g>
<g id="y4a" class="n"><rect x="875" y="2726" width="248" height="42" rx="6"/><text class="t" x="882" y="2743.75"><tspan x="882">1. 利用课中或课后的时间多与学生沟通交流，</tspan><tspan x="882" dy="15.3">转变他们的观念，变被动为主动。</tspan></text></g>
<g id="y4b" class="n"><rect x="875" y="2793" width="248" height="58" rx="6"/><text class="t" x="882" y="2811.1"><tspan x="882">2. 认真备好课，向课堂45分要效率，确保学</tspan><tspan x="882" dy="15.3">生们能够在愉悦气氛中投入到每节课的学习中</tspan><tspan x="882" dy="15.3">。</tspan></text></g>
<g id="y4c" class="n"><rect x="875" y="2877" width="248" height="72" rx="6"/><text class="t" x="882" y="2894.45"><tspan x="882">3. 课堂上，参与到学生中间，以此拉近与他</tspan><tspan x="882" dy="15.3">们的距离，注重培养体育骨干，起到率先的作</tspan><tspan x="882" dy="15.3">用。课中多采用比赛的方式，激励他们敢于争</tspan><tspan x="882" dy="15.3">创的好成绩。</tspan></text></g>
<g id="y4d" class="n"><rect x="967" y="2975" width="156" height="26" rx="6"/><text class="t" x="974" y="2992.4">4. 课后做到及时反思总结。</text></g>
<g id="y5a" class="n"><rect x="875" y="3027" width="248" height="57" rx="6"/><text class="t" x="882" y="3044.6"><tspan x="882">1. 认真领会课改精神，熟练各学段教材内容，</tspan><tspan x="882" dy="15.3">加强业务理论学习，在教学实践中提高自己的</tspan><tspan x="882" dy="15.3">业务水平。</tspan></text></g>
<g id="y5b" class="n"><rect x="875" y="3109" width="248" height="43" rx="6"/><text class="t" x="882" y="3127.25"><tspan x="882">2. 多听课，评课参与集体研讨，取其长补己</tspan><tspan x="882" dy="15.3">之短，丰富自己的阅历。</tspan></text></g>
<g id="y5c" class="n"><rect x="875" y="3177" width="248" height="42" rx="6"/><text class="t" x="882" y="3194.75"><tspan x="882">3. 充分利用多媒体、图书室等查阅教学训练</tspan><tspan x="882" dy="15.3">方面的资料，学习新的好的教学方法。</tspan></text></g>
<g id="y5d" class="n"><rect x="875" y="3245" width="248" height="42" rx="6"/><text class="t" x="882" y="3262.75"><tspan x="882">4. 努力学习电脑知识，能够制造出相应的课</tspan><tspan x="882" dy="15.3">件利于教学。</tspan></text></g>
<g id="y5e" class="n"><rect x="875" y="3312" width="248" height="43" rx="6"/><text class="t" x="882" y="3330.25"><tspan x="882">5. 多与同行共同交流，共同研讨，共同提高</tspan><tspan x="882" dy="15.3">。</tspan></text></g>
<g id="y5f" class="n"><rect x="931" y="3380" width="192" height="27" rx="6"/><text class="t" x="938" y="3397.9">6. 加强自我锻炼，提高自身素质。</text></g>
<g id="y6a" class="n"><rect x="898" y="3433" width="166" height="26" rx="6"/><text class="t" x="905" y="3450.4">课题：寓教于乐于体育教学中</text></g>
<g id="y6b" class="n"><rect x="815" y="3485" width="249" height="73" rx="6"/><text class="t" x="822" y="3502.95"><tspan x="822">措施：1. 实践法：以课堂为载体，精心设计每</tspan><tspan x="822" dy="15.3">一堂课，让学生能够在玩中学，学中玩。2.</tspan><tspan x="822" dy="15.3">问卷调查法：通过对学生的调查反馈，加以改</tspan><tspan x="822" dy="15.3">进。</tspan></text></g>
<g id="y7" class="n"><rect x="851" y="3644" width="248" height="56" rx="6"/><text class="t" x="858" y="3661.1"><tspan x="858">通过测试和平时的练习采取教师或学生相互评</tspan><tspan x="858" dy="15.3">价的方式，分优秀、良好、及格、仍需努力四</tspan><tspan x="858" dy="15.3">个层次：</tspan></text></g>
<g id="y7a" class="n"><rect x="575" y="3583" width="249" height="43" rx="6"/><text class="t" x="582" y="3601.25"><tspan x="582">1. 学习态度与行为：能否以端正积极的心态投</tspan><tspan x="582" dy="15.3">入到体育锻炼及体育课的学习中去。</tspan></text></g>
<g id="y7b" class="n"><rect x="575" y="3651" width="249" height="42" rx="6"/><text class="t" x="582" y="3668.75"><tspan x="582">2. 体能与技能：能否正确的将动作掌握与运</tspan><tspan x="582" dy="15.3">用情况。</tspan></text></g>
<g id="y7c" class="n"><rect x="575" y="3718" width="249" height="43" rx="6"/><text class="t" x="582" y="3736.25"><tspan x="582">3. 交往与合作精神：能否正确处理好与同伴</tspan><tspan x="582" dy="15.3">的合作关系。</tspan></text></g>
<g id="y8" class="n"><rect x="851" y="3787" width="248" height="71" rx="6"/><text class="t" x="858" y="3803.95"><tspan x="858">1. 争取在优质课评选中取得较优异的成绩，以</tspan><tspan x="858" dy="15.3">提高自己的授课水平。2. 在教师基本功比赛</tspan><tspan x="858" dy="15.3">中取得好成绩。3. 与其他同行共同搞好校队</tspan><tspan x="858" dy="15.3">的各项训练。4. 认真落实两操一课活动。</tspan></text></g>
</svg>
